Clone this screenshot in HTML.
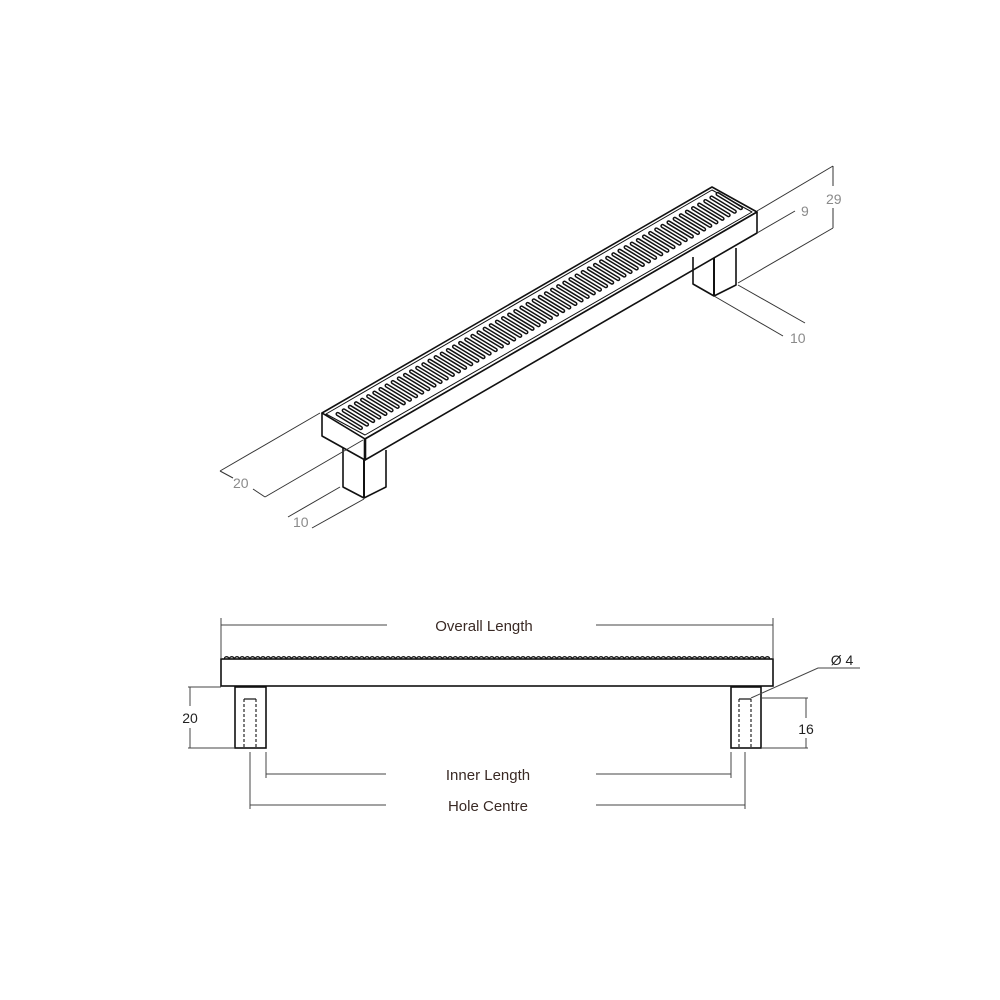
<!DOCTYPE html>
<html><head><meta charset="utf-8"><style>
html,body{margin:0;padding:0;background:#fff;}
svg{display:block;}
text{font-family:"Liberation Sans",sans-serif;}
</style></head><body>
<svg width="1000" height="1000" viewBox="0 0 1000 1000" xmlns="http://www.w3.org/2000/svg">
<defs>
  <pattern id="bump" patternUnits="userSpaceOnUse" x="224" y="653" width="5.2" height="7">
    <path d="M0.3,6 a2.3,2.3 0 0 1 4.6,0" fill="none" stroke="#111" stroke-width="1.3"/>
  </pattern>
</defs>
<g fill="none" stroke="#111" stroke-width="1.6" stroke-linejoin="round">
  <polygon points="322,413 712,187 757,212 365,439" fill="#fff"/>
  <polygon points="326,414 712,190 752,212 365,435" stroke-width="1"/>
  <polygon points="322,413 365,439 365,460 322,436" fill="#fff"/>
  <polygon points="365,439 757,212 757,233 365,460" fill="#fff"/>
  <line x1="365" y1="439" x2="365" y2="460" stroke-width="2.6"/>
  <polyline points="343,448 343,487 364,498 386,487 386,450"/>
  <line x1="364" y1="460" x2="364" y2="498" stroke-width="2"/>
  <polyline points="693,257 693,284 714,296 736,285 736,248"/>
  <line x1="714" y1="258" x2="714" y2="296" stroke-width="2"/>
</g>
<g transform="matrix(6.129 -3.548 33 20 330 413)" fill="none" stroke-linecap="round">
  <path vector-effect="non-scaling-stroke" stroke="#111" stroke-width="4.4" d="M0.5,0.14 v0.7m1,-0.7 v0.7m1,-0.7 v0.7m1,-0.7 v0.7m1,-0.7 v0.7m1,-0.7 v0.7m1,-0.7 v0.7m1,-0.7 v0.7m1,-0.7 v0.7m1,-0.7 v0.7m1,-0.7 v0.7m1,-0.7 v0.7m1,-0.7 v0.7m1,-0.7 v0.7m1,-0.7 v0.7m1,-0.7 v0.7m1,-0.7 v0.7m1,-0.7 v0.7m1,-0.7 v0.7m1,-0.7 v0.7m1,-0.7 v0.7m1,-0.7 v0.7m1,-0.7 v0.7m1,-0.7 v0.7m1,-0.7 v0.7m1,-0.7 v0.7m1,-0.7 v0.7m1,-0.7 v0.7m1,-0.7 v0.7m1,-0.7 v0.7m1,-0.7 v0.7m1,-0.7 v0.7m1,-0.7 v0.7m1,-0.7 v0.7m1,-0.7 v0.7m1,-0.7 v0.7m1,-0.7 v0.7m1,-0.7 v0.7m1,-0.7 v0.7m1,-0.7 v0.7m1,-0.7 v0.7m1,-0.7 v0.7m1,-0.7 v0.7m1,-0.7 v0.7m1,-0.7 v0.7m1,-0.7 v0.7m1,-0.7 v0.7m1,-0.7 v0.7m1,-0.7 v0.7m1,-0.7 v0.7m1,-0.7 v0.7m1,-0.7 v0.7m1,-0.7 v0.7m1,-0.7 v0.7m1,-0.7 v0.7m1,-0.7 v0.7m1,-0.7 v0.7m1,-0.7 v0.7m1,-0.7 v0.7m1,-0.7 v0.7m1,-0.7 v0.7m1,-0.7 v0.7m1,-0.7 v0.7"/>
  <path vector-effect="non-scaling-stroke" stroke="#fff" stroke-width="1.4" d="M0.5,0.14 v0.7m1,-0.7 v0.7m1,-0.7 v0.7m1,-0.7 v0.7m1,-0.7 v0.7m1,-0.7 v0.7m1,-0.7 v0.7m1,-0.7 v0.7m1,-0.7 v0.7m1,-0.7 v0.7m1,-0.7 v0.7m1,-0.7 v0.7m1,-0.7 v0.7m1,-0.7 v0.7m1,-0.7 v0.7m1,-0.7 v0.7m1,-0.7 v0.7m1,-0.7 v0.7m1,-0.7 v0.7m1,-0.7 v0.7m1,-0.7 v0.7m1,-0.7 v0.7m1,-0.7 v0.7m1,-0.7 v0.7m1,-0.7 v0.7m1,-0.7 v0.7m1,-0.7 v0.7m1,-0.7 v0.7m1,-0.7 v0.7m1,-0.7 v0.7m1,-0.7 v0.7m1,-0.7 v0.7m1,-0.7 v0.7m1,-0.7 v0.7m1,-0.7 v0.7m1,-0.7 v0.7m1,-0.7 v0.7m1,-0.7 v0.7m1,-0.7 v0.7m1,-0.7 v0.7m1,-0.7 v0.7m1,-0.7 v0.7m1,-0.7 v0.7m1,-0.7 v0.7m1,-0.7 v0.7m1,-0.7 v0.7m1,-0.7 v0.7m1,-0.7 v0.7m1,-0.7 v0.7m1,-0.7 v0.7m1,-0.7 v0.7m1,-0.7 v0.7m1,-0.7 v0.7m1,-0.7 v0.7m1,-0.7 v0.7m1,-0.7 v0.7m1,-0.7 v0.7m1,-0.7 v0.7m1,-0.7 v0.7m1,-0.7 v0.7m1,-0.7 v0.7m1,-0.7 v0.7m1,-0.7 v0.7"/>
</g>
<g stroke="#333" stroke-width="1" fill="none">
  <line x1="220" y1="471" x2="320" y2="413"/>
  <line x1="265" y1="497" x2="363" y2="440"/>
  <line x1="220" y1="471" x2="233" y2="478"/><line x1="253" y1="489" x2="265" y2="497"/>
  <line x1="288" y1="517" x2="340" y2="487"/>
  <line x1="312" y1="528" x2="364" y2="499"/>
  <line x1="757" y1="211" x2="833" y2="166"/>
  <line x1="738" y1="283" x2="833" y2="228"/>
  <line x1="833" y1="166" x2="833" y2="186"/><line x1="833" y1="208" x2="833" y2="228"/>
  <line x1="757" y1="233" x2="795" y2="211"/>
  <line x1="714" y1="296" x2="783" y2="336"/>
  <line x1="738" y1="285" x2="805" y2="323"/>
</g>
<g fill="#8a8a8a" font-size="14">
  <text x="233" y="488">20</text>
  <text x="293" y="527">10</text>
  <text x="826" y="204">29</text>
  <text x="801" y="216">9</text>
  <text x="790" y="343">10</text>
</g>
<g fill="none" stroke="#111" stroke-width="1.6">
  <rect x="221" y="659" width="552" height="27" fill="#fff"/>
  <rect x="224" y="653" width="546" height="6.5" fill="url(#bump)" stroke="none"/>
  <rect x="235" y="687" width="31" height="61"/>
  <rect x="731" y="687" width="30" height="61"/>
  <g stroke-width="1.1" stroke-dasharray="3,2">
    <line x1="244" y1="699" x2="244" y2="748"/><line x1="256" y1="699" x2="256" y2="748"/>
    <line x1="739" y1="699" x2="739" y2="748"/><line x1="751" y1="699" x2="751" y2="748"/>
  </g>
  <line x1="244" y1="699" x2="256" y2="699" stroke-width="1.2"/>
  <line x1="739" y1="699" x2="751" y2="699" stroke-width="1.2"/>
</g>
<g stroke="#444" stroke-width="1" fill="none">
  <line x1="221" y1="618" x2="221" y2="659"/><line x1="773" y1="618" x2="773" y2="659"/>
  <line x1="221" y1="625" x2="387" y2="625"/><line x1="596" y1="625" x2="773" y2="625"/>
  <line x1="266" y1="752" x2="266" y2="778"/><line x1="731" y1="752" x2="731" y2="778"/>
  <line x1="266" y1="774" x2="386" y2="774"/><line x1="596" y1="774" x2="731" y2="774"/>
  <line x1="250" y1="752" x2="250" y2="809"/><line x1="745" y1="752" x2="745" y2="809"/>
  <line x1="250" y1="805" x2="386" y2="805"/><line x1="596" y1="805" x2="745" y2="805"/>
  <line x1="188" y1="687" x2="221" y2="687"/><line x1="188" y1="748" x2="235" y2="748"/>
  <line x1="190" y1="687" x2="190" y2="706"/><line x1="190" y1="728" x2="190" y2="748"/>
  <line x1="761" y1="698" x2="808" y2="698"/><line x1="761" y1="748" x2="808" y2="748"/>
  <line x1="806" y1="698" x2="806" y2="718"/><line x1="806" y1="738" x2="806" y2="748"/>
  <polyline points="751,698 818,668 860,668"/>
</g>
<g fill="#3a2a25" font-size="15" text-anchor="middle">
  <text x="484" y="631">Overall Length</text>
  <text x="488" y="780">Inner Length</text>
  <text x="488" y="811">Hole Centre</text>
  <text x="190" y="723" font-size="14" fill="#222">20</text>
  <text x="806" y="734" font-size="14" fill="#222">16</text>
  <text x="842" y="665" font-size="14" fill="#222">Ø 4</text>
</g>
</svg>
</body></html>
